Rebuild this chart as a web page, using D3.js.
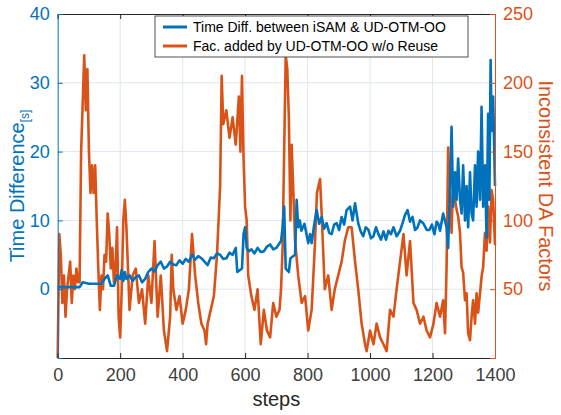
<!DOCTYPE html>
<html><head><meta charset="utf-8">
<script src="https://cdn.jsdelivr.net/npm/d3@7"></script>
<style>body{margin:0;background:#fff}text{font-family:Helvetica,"Liberation Sans",Arial,sans-serif}</style>
</head><body><svg id="c" width="561" height="415"></svg>
<script>
const xTicks=[0,200,400,600,800,1000,1200,1400];
const leftTicks=[0,10,20,30,40];
const rightTicks=[50,100,150,200,250];
const seriesNames=["Time Diff. between iSAM & UD-OTM-OO","Fac. added by UD-OTM-OO w/o Reuse"];
// Blue: time difference [s] (left axis)
const blueSteps=[0,70,80,100,140,150,160,170,180,190,200,205,210,215,220,230,240,250,260,270,280,290,300,310,320,330,340,350,360,370,380,390,400,410,420,430,440,450,460,470,480,490,500,510,520,530,540,550,560,570,575,590,595,600,605,612,620,630,640,650,660,670,680,690,700,715,720,725,730,740,745,760,765,770,775,780,790,802,808,813,820,829,837,845,853,861,869,877,885,893,901,909,917,925,936,944,952,962,970,978,986,995,1003,1011,1019,1027,1035,1043,1051,1059,1067,1075,1085,1096,1104,1112,1120,1128,1136,1144,1152,1160,1170,1182,1190,1198,1206,1213,1218,1224,1234,1245,1250,1256,1261,1266,1272,1277,1282,1288,1293,1298,1304,1309,1314,1320,1325,1330,1336,1341,1346,1352,1357,1362,1368,1373,1378,1382,1386,1389,1394,1400];
const blueVals=[0.3,0.3,1,0.8,0.8,1.5,2,0.5,0.5,2,1.5,2.8,1.2,2.5,1.5,2,1.2,1.8,2,1,1.5,2.5,3,2.6,3.5,4,3,3.3,4,3.6,3.5,4.2,3.7,4.4,4,5,4.3,4.8,4.5,4,3.5,4.6,4.5,5.2,5,4.4,4.5,5.3,5,6,2.5,3,8,9,6,5.5,5.8,5.2,6,5.4,5.5,6.2,6.5,5.8,6,7,9,12,3,2.5,4.5,5,13,9,10,8.5,9.5,6.7,8,6.7,9,11.5,9.5,10.5,8.8,9.6,8.2,8,9.4,9.6,8.6,10.5,9.4,11.5,12,10,12.5,9.6,8.4,7.7,9,8.6,7.4,7.7,9,8,7.2,8.4,7.2,8.5,8,9,7.7,8.5,9.6,10.8,11.5,9.8,10.5,8.6,9,10,9.6,8.6,8.6,9.4,8,9.8,9.6,8.5,11,9,6,15,23.6,12,17,13,19,13,11,18,10,15,9,17,11,10,18,12,20,13,26.5,12,18,7.5,25.5,13,33.3,23,28,15,23];
// Orange: inconsistent DA factors (right axis)
const orangeSteps=[0,5,10,15,20,25,30,35,40,45,50,55,60,65,70,75,80,85,90,95,100,105,110,115,120,125,130,135,140,145,150,155,160,165,170,175,180,185,190,195,200,205,210,215,220,225,230,240,250,260,270,280,290,300,310,320,330,340,350,360,365,370,380,390,400,410,420,430,440,450,460,470,475,480,490,500,510,520,525,530,540,550,560,570,580,585,590,595,600,605,610,620,630,640,650,660,670,680,690,700,710,715,720,725,730,735,740,745,749,760,770,781,792,802,813,823,830,840,845,855,866,877,887,898,909,919,930,941,952,962,973,984,989,1000,1011,1021,1032,1043,1053,1064,1075,1085,1096,1107,1117,1128,1139,1149,1160,1171,1181,1192,1203,1213,1224,1234,1240,1245,1250,1256,1261,1266,1272,1277,1282,1288,1293,1298,1304,1309,1314,1320,1325,1330,1336,1341,1346,1352,1357,1362,1368,1373,1378,1384,1389,1394,1400];
const orangeVals=[0,90,75,40,60,30,50,60,70,40,60,50,65,55,55,150,185,220,180,210,150,120,140,120,140,100,65,35,60,50,75,70,105,90,65,80,55,65,95,30,15,50,100,115,95,65,35,60,65,40,50,25,60,40,85,30,60,20,5,30,75,50,35,45,25,35,50,90,60,40,25,20,10,25,35,45,75,125,205,170,180,160,175,155,190,150,205,145,110,100,60,45,35,50,10,35,20,15,40,30,35,50,80,150,220,210,175,100,155,85,60,40,45,20,35,80,120,130,105,50,60,35,50,60,70,85,95,95,70,50,25,10,5,20,10,25,15,10,5,35,30,50,70,90,60,85,40,35,25,30,20,15,25,40,30,42,18,66,153,115,91,129,115,108,103,91,66,62,42,47,18,13,30,42,25,47,33,47,59,66,91,78,110,84,122,115,82];

const m={l:57.7,r:495,t:14,b:358};
const svg=d3.select("#c");
const x=d3.scaleLinear().domain([0,1400]).range([m.l,m.r]);
const yL=d3.scaleLinear().domain([-10,40]).range([m.b,m.t]);
const yR=d3.scaleLinear().domain([0,250]).range([m.b,m.t]);
const blue="#0072BD",orange="#D95319",grid="#dfe6ee",ax="#262626";
svg.append("g").selectAll("line").data(xTicks.slice(1,-1)).join("line")
 .attr("x1",d=>x(d)).attr("x2",d=>x(d)).attr("y1",m.t).attr("y2",m.b).attr("stroke",grid);
svg.append("g").selectAll("line").data(leftTicks.slice(0,-1)).join("line")
 .attr("x1",m.l).attr("x2",m.r).attr("y1",d=>yL(d)).attr("y2",d=>yL(d)).attr("stroke",grid);
const bl=d3.line().x((d,i)=>x(blueSteps[i])).y(d=>yL(d));
const ol=d3.line().x((d,i)=>x(orangeSteps[i])).y(d=>yR(d));
svg.append("path").attr("d",ol(orangeVals)).attr("fill","none").attr("stroke",orange).attr("stroke-width",2.6).attr("stroke-linejoin","round");
svg.append("path").attr("d",bl(blueVals)).attr("fill","none").attr("stroke",blue).attr("stroke-width",2.6).attr("stroke-linejoin","round");
const fmt=d3.format("d");
const gx=svg.append("g").attr("transform",`translate(0,${m.b})`).call(d3.axisBottom(x).tickValues(xTicks).tickFormat(fmt).tickSize(-5).tickPadding(10));
gx.selectAll("text").attr("font-size",18).attr("fill","#404040");
gx.selectAll("line,path").attr("stroke",ax);
const gt=svg.append("g").attr("transform",`translate(0,${m.t})`).call(d3.axisTop(x).tickValues(xTicks).tickSize(-5).tickFormat(""));
gt.selectAll("line,path").attr("stroke",ax);
const gl=svg.append("g").attr("transform",`translate(${m.l},0)`).call(d3.axisLeft(yL).tickValues(leftTicks).tickSize(-5).tickPadding(8));
gl.selectAll("text").attr("font-size",18).attr("fill",blue);
gl.selectAll("line,path").attr("stroke",blue);
const gr=svg.append("g").attr("transform",`translate(${m.r},0)`).call(d3.axisRight(yR).tickValues(rightTicks).tickSize(-5).tickPadding(8));
gr.selectAll("text").attr("font-size",18).attr("fill",orange);
gr.selectAll("line,path").attr("stroke",orange);
svg.append("text").attr("x",x(700)).attr("y",406).attr("text-anchor","middle").attr("font-size",20).attr("fill","#262626").text("steps");
const lt=svg.append("text").attr("transform",`translate(24,${(m.t+m.b)/2}) rotate(-90)`).attr("text-anchor","middle").attr("font-size",20).attr("fill",blue);
lt.append("tspan").text("Time Difference");
lt.append("tspan").attr("font-size",12).attr("dy",5).text("[s]");
svg.append("text").attr("transform",`translate(539,${(m.t+m.b)/2}) rotate(90)`).attr("text-anchor","middle").attr("font-size",20).attr("fill",orange).text("Inconsistent DA Factors");
const lg=svg.append("g");
lg.append("rect").attr("x",155).attr("y",16).attr("width",313).attr("height",41).attr("fill","#fff").attr("stroke","#262626").attr("stroke-width",0.8);
[blue,orange].forEach((c,i)=>{
 lg.append("line").attr("x1",163).attr("x2",187).attr("y1",27+i*19).attr("y2",27+i*19).attr("stroke",c).attr("stroke-width",3);
 lg.append("text").attr("x",193).attr("y",32+i*19).attr("font-size",14).attr("fill","#000").text(seriesNames[i]);
});
</script></body></html>
